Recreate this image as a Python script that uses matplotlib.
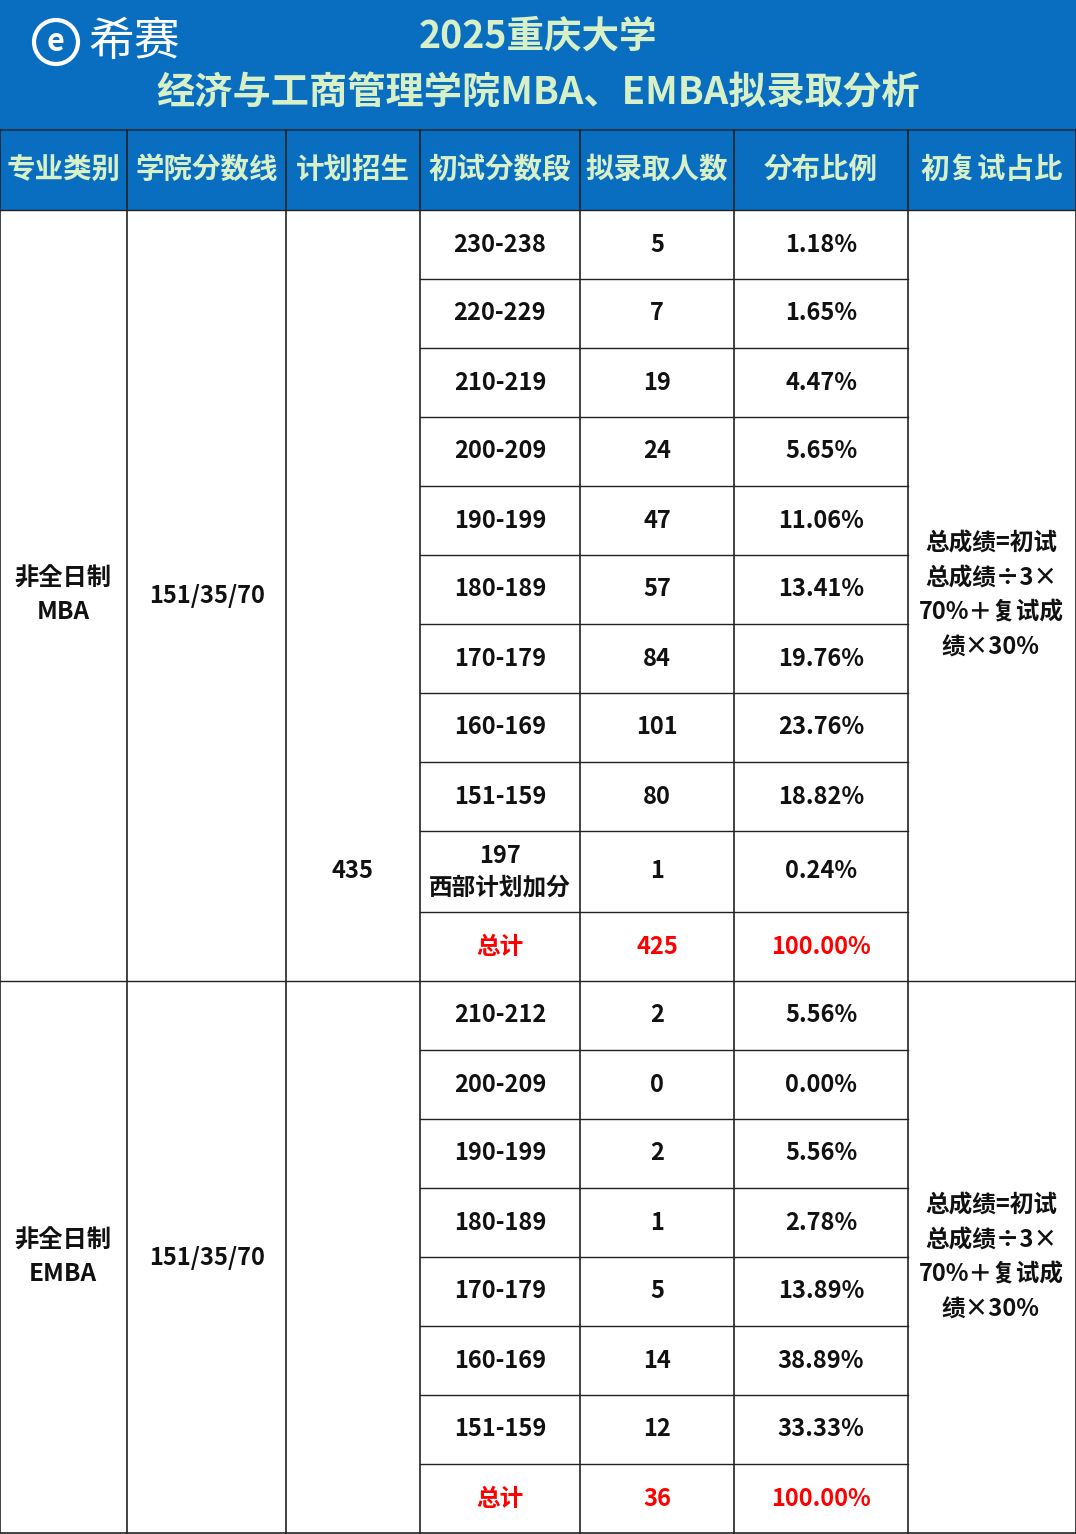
import matplotlib
matplotlib.use("Agg")
import matplotlib.pyplot as plt
from matplotlib.patches import Rectangle, Circle

FONT = ["Noto Sans CJK SC", "Noto Sans CJK JP", "Noto Sans CJK TC", "Noto Sans CJK KR", "DejaVu Sans"]
title1 = "2025重庆大学"
title2 = "经济与工商管理学院MBA、EMBA拟录取分析"
headers = ["专业类别", "学院分数线", "计划招生", "初试分数段", "拟录取人数", "分布比例", "初复试占比"]
plan = "435"
groups = ["非全日制\nMBA", "非全日制\nEMBA"]
lines = ["151/35/70", "151/35/70"]
formula = "总成绩=初试\n总成绩÷3×\n70%＋复试成\n绩×30%"
mba_ranges = ["230-238", "220-229", "210-219", "200-209", "190-199", "180-189", "170-179", "160-169", "151-159", "197\n西部计划加分"]
mba_counts = [5, 7, 19, 24, 47, 57, 84, 101, 80, 1]
mba_pct = ["1.18%", "1.65%", "4.47%", "5.65%", "11.06%", "13.41%", "19.76%", "23.76%", "18.82%", "0.24%"]
mba_total = ("总计", "425", "100.00%")
emba_ranges = ["210-212", "200-209", "190-199", "180-189", "170-179", "160-169", "151-159"]
emba_counts = [2, 0, 2, 1, 5, 14, 12]
emba_pct = ["5.56%", "0.00%", "5.56%", "2.78%", "13.89%", "38.89%", "33.33%"]
emba_total = ("总计", "36", "100.00%")

W, H = 1076, 1534
BLUE = "#0A6EC0"
HTXT = "#D8F0C8"
colx = [0, 127, 286, 420, 580, 734, 908, 1076]

fig = plt.figure(figsize=(W/100, H/100), dpi=100)
ax = fig.add_axes([0, 0, 1, 1])
ax.set_xlim(0, W); ax.set_ylim(H, 0); ax.axis("off")

ax.add_patch(Rectangle((0, 0), W, 210, color=BLUE, lw=0))
ax.plot([0, W], [130, 130], color="#1a3a5a", lw=1.5)
ax.text(538, 36, title1, ha="center", va="center", fontsize=27, color=HTXT, fontweight="bold", family=FONT)
ax.text(538, 93, title2, ha="center", va="center", fontsize=27.5, color=HTXT, fontweight="bold", family=FONT)
ax.add_patch(Circle((56, 42), 22, fill=False, ec="white", lw=3))
ax.text(56, 42, "e", ha="center", va="center", fontsize=22, color="white", fontweight="bold", family=FONT)
ax.text(88, 42, "希赛", ha="left", va="center", fontsize=33, color="white", family=FONT)

for i, h in enumerate(headers):
    ax.text((colx[i]+colx[i+1])/2, 170, h, ha="center", va="center", fontsize=20.5,
            color=HTXT, fontweight="bold", family=FONT)

mba_h = [69]*9 + [81, 69]
emba_h = [69]*7 + [70]
y = 210
mba_rows = []
for hh in mba_h:
    mba_rows.append((y, y+hh)); y += hh
emba_rows = []
for hh in emba_h:
    emba_rows.append((y, y+hh)); y += hh

def txt(x, y, s, color="#111111", fs=17, ls=1.4):
    ax.text(x, y, s, ha="center", va="center", fontsize=fs, color=color,
            fontweight="bold", family=FONT, linespacing=ls)

def block(rows, ranges, counts, pct, total, grp, line):
    top, bot = rows[0][0], rows[-1][1]
    for (a, b), r, c, p in zip(rows, ranges, counts, pct):
        m = (a+b)/2
        txt(500, m, r); txt(657, m, str(c)); txt(821, m, p)
    a, b = rows[-1]; m = (a+b)/2
    txt(500, m, total[0], "red"); txt(657, m, total[1], "red"); txt(821, m, total[2], "red")
    for a, b in rows[1:]:
        ax.plot([420, 908], [a, a], color="#222", lw=1)
    ax.plot([0, W], [top, top], color="#222", lw=1)
    txt(63, (top+bot)/2, grp, fs=17.5, ls=1.5)
    txt(207, (top+bot)/2, line)
    txt(991, (top+bot)/2, formula, fs=17, ls=1.55)

block(mba_rows, mba_ranges, mba_counts, mba_pct, mba_total, groups[0], lines[0])
block(emba_rows, emba_ranges, emba_counts, emba_pct, emba_total, groups[1], lines[1])
txt(353, 871, plan)

for x in colx:
    ax.plot([x, x], [130, H], color="#222", lw=1.2)
ax.plot([0, W], [H-1, H-1], color="#222", lw=1.2)

fig.savefig("out.png", dpi=100)
